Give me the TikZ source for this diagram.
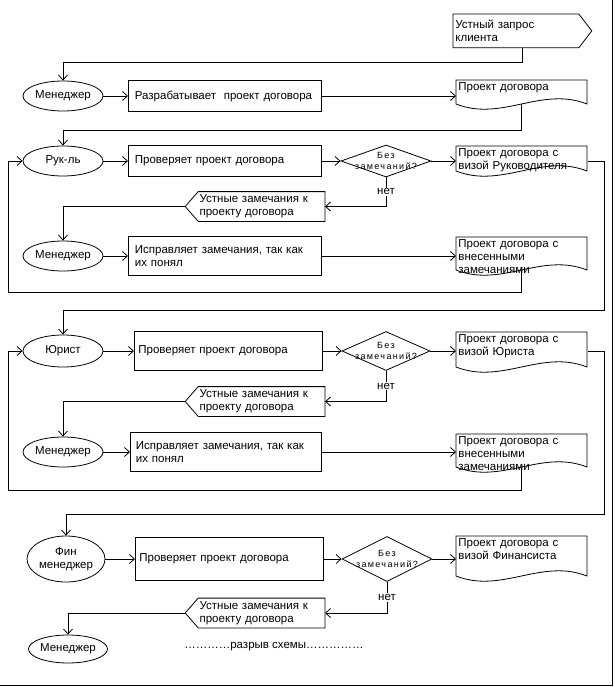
\documentclass[tikz,border=0pt]{standalone}
\usepackage{fontspec}
\setmainfont{Liberation Sans}
\newfontfamily\smallspaced[LetterSpace=15]{Liberation Sans}
\usetikzlibrary{arrows.meta,shapes.geometric,calc}

% document sheet with wavy bottom: node, width, side height
\newcommand\docline[3]{%
  \draw (#1.north west) -- ++(#2,0) -- ++(0,#3)
    .. controls +(-0.35*#2,-18) and +(0.35*#2,18) .. ++(-#2,0) -- cycle;
  \coordinate (#1-s) at ($(#1.north west)+(0.5*#2,#3)$);}
% flag pointing to the right / to the left
\newcommand\tagright[2]{%
  \draw (#1.north west) -- (#1.north east) -- ([xshift=#2pt]#1.east)
    -- (#1.south east) -- (#1.south west) -- cycle;
  \coordinate (#1-s) at ($(#1.south west)!0.55!(#1.south east)$);}
\newcommand\tagleft[2]{%
  \draw (#1.north east) -- (#1.north west) -- ([xshift=-#2pt]#1.west)
    -- (#1.south west) -- (#1.south east) -- cycle;
  \coordinate (#1-tip) at ([xshift=-#2pt]#1.west);}

\begin{document}
\begin{tikzpicture}[x=1pt,y=-1pt,line width=0.8pt,
  every node/.style={font=\fontsize{11.5}{13}\selectfont},
  arr/.style={-{Straight Barb[length=5pt,width=9pt]}},
  actor/.style={draw,ellipse,inner sep=0pt,minimum width=80pt,minimum height=30pt,align=center},
  proc/.style={draw,anchor=west,inner sep=2pt,text width=180pt,align=left,minimum height=#1},
  decide/.style={draw,diamond,inner sep=0pt,minimum width=90pt,minimum height=#1},
  decidetext/.style={font=\smallspaced\fontsize{9}{10.5}\selectfont,align=center,inner sep=0pt},
  docbox/.style={anchor=north west,inner sep=2pt,text width=127pt,align=left},
  remark/.style={anchor=east,inner xsep=1pt,inner ysep=1pt,text width=124pt,align=left,minimum height=29pt},
  nolabel/.style={fill=white,inner sep=1pt}]
\useasboundingbox (0,0) rectangle (614,687);
\draw (612.5,0) -- (612.5,685.5) -- (0,685.5);

\node[docbox,text width=121pt,minimum height=33pt] (req) at (453,14) {Устный запрос\\клиента};
\tagright{req}{13}
\node[actor] (m1) at (63,96) {Менеджер};
\node[proc=31pt,minimum width=193pt] (r1) at (128,96) {Разрабатывает~ проект договора};
\node[docbox] (d1) at (456,80) {Проект договора};
\docline{d1}{131}{24}
\draw[arr] (req-s) -- ++(0,15) -| (m1.north);
\draw[arr] (m1.east) -- (r1.west);
\draw[arr] (r1.east) -- (r1.east -| d1.west);

% Рук-ль
\node[actor] (rk) at (63,161) {Рук-ль};
\node[proc=31pt,minimum width=193pt] (r2) at (128,161) {Проверяет проект договора};
\node[decide=32pt] (q1) at (386,161) {};
\node[decidetext] (q1t) at (q1) {Без\\замечаний?};
\node[docbox] (d2) at (456,146) {Проект договора с\\визой Руководителя};
\docline{d2}{131}{25}
\node[remark] (o1) at (325,206.5) {Устные замечания к\\проекту договора};
\tagleft{o1}{13}
\node[actor] (m2) at (63,256) {Менеджер};
\node[proc=39pt,minimum width=193pt] (r3) at (128,256) {Исправляет замечания, так как\\их понял};
\node[docbox] (d3) at (456,237) {Проект договора с\\внесенными\\замечаниями};
\docline{d3}{131}{33}
\draw[arr] (d1-s) -- ++(0,26) -| (rk.north);
\draw[arr] (rk.east) -- (r2.west);
\draw[arr] (r2.east) -- (q1.west);
\draw[arr] (q1.east) -- (q1.east -| d2.west);
\draw[arr] (q1.south) -- node[nolabel] (n1) {нет} (q1.south |- o1.east) -- (o1.east);
\draw[arr] (o1-tip) -| (m2.north);
\draw[arr] (m2.east) -- (r3.west);
\draw[arr] (r3.east) -- (r3.east -| d3.west);
\draw[arr] (d3-s) -- ++(0,22) -| ([xshift=-14pt]rk.west) -- (rk.west);

% Юрист
\node[actor,minimum height=32pt] (ju) at (63,351) {Юрист};
\node[proc=39pt,minimum width=188pt] (r4) at (134,351) {Проверяет проект договора};
\node[decide=39pt,minimum width=88pt] (q2) at (386,351) {};
\node[decidetext] (q2t) at (q2) {Без\\замечаний?};
\node[docbox] (d4) at (456,332) {Проект договора с\\визой Юриста};
\docline{d4}{131}{35}
\node[remark] (o2) at (325,401.5) {Устные замечания к\\проекту договора};
\tagleft{o2}{13}
\node[actor] (m3) at (63,452) {Менеджер};
\node[proc=39pt,minimum width=191pt] (r5) at (130,452) {Исправляет замечания, так как\\их понял};
\node[docbox] (d5) at (456,434) {Проект договора с\\внесенными\\замечаниями};
\docline{d5}{131}{33}
\draw[arr] (d2.east |- q1.east) -- ++(17,0) -- ++(0,149) -| (ju.north);
\draw[arr] (ju.east) -- (r4.west);
\draw[arr] (r4.east) -- (q2.west);
\draw[arr] (q2.east) -- (q2.east -| d4.west);
\draw[arr] (q2.south) -- node[nolabel] (n2) {нет} (q2.south |- o2.east) -- (o2.east);
\draw[arr] (o2-tip) -| (m3.north);
\draw[arr] (m3.east) -- (r5.west);
\draw[arr] (r5.east) -- (r5.east -| d5.west);
\draw[arr] (d5-s) -- ++(0,23) -| ([xshift=-14pt]ju.west) -- (ju.west);

% Фин менеджер
\node[actor,minimum width=78pt,minimum height=46pt] (fin) at (66,559) {Фин\\менеджер};
\node[proc=43pt,minimum width=188pt] (r6) at (135,559) {Проверяет проект договора};
\node[decide=45pt] (q3) at (387,559) {};
\node[decidetext] (q3t) at (q3) {Без\\замечаний?};
\node[docbox] (d6) at (456,536) {Проект договора с\\визой Финансиста};
\docline{d6}{131}{40}
\node[remark] (o3) at (325,613) {Устные замечания к\\проекту договора};
\tagleft{o3}{13}
\node[actor,minimum width=79pt,minimum height=28pt] (m4) at (68,649) {Менеджер};
\node (gap) at (274,647) {…………разрыв схемы……………};
\draw[arr] (d4.east |- q2.east) -- ++(17,0) -- ++(0,163) -| (fin.north);
\draw[arr] (fin.east) -- (r6.west);
\draw[arr] (r6.east) -- (q3.west);
\draw[arr] (q3.east) -- (q3.east -| d6.west);
\draw[arr] (q3.south) -- node[nolabel] (n3) {нет} (q3.south |- o3.east) -- (o3.east);
\draw[arr] (o3-tip) -| (m4.north);
\end{tikzpicture}
\end{document}
